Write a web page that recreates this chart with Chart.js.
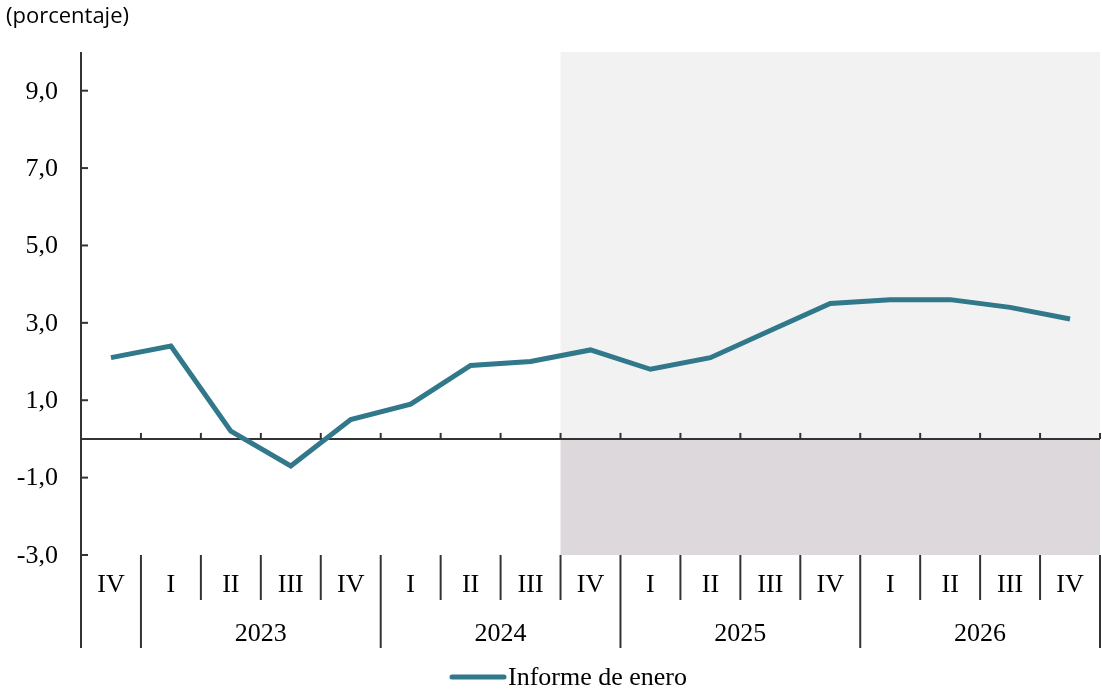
<!DOCTYPE html>
<html>
<head>
<meta charset="utf-8">
<script src="https://cdn.jsdelivr.net/npm/chart.js@4"></script>
<style>
  html, body { margin: 0; padding: 0; background: #fff; }
  #wrap { width: 1102px; height: 691px; position: relative; }
</style>
</head>
<body>
<div id="wrap"><canvas id="chart" width="1102" height="691"></canvas></div>
<script>
const quarters = ["IV", "I", "II", "III", "IV", "I", "II", "III", "IV", "I", "II", "III", "IV", "I", "II", "III", "IV"];
const years = ["2023", "2024", "2025", "2026"];
// index of the first quarter of each year
const yearStarts = [1, 5, 9, 13];
const informeEnero = [2.1, 2.4, 0.2, -0.7, 0.5, 0.9, 1.9, 2.0, 2.3, 1.8, 2.1, 2.8, 3.5, 3.6, 3.6, 3.4, 3.1];
const yTicks = [-3, -1, 1, 3, 5, 7, 9];
const forecastStart = 8; // IV 2024

const serif = "'Liberation Serif', 'Times New Roman', serif";
const axisColor = "#333333";
const lineColor = "#31788a";

const fmt = (v) => v.toFixed(1).replace(".", ",");

const decor = {
  id: "decor",
  beforeDatasetsDraw(chart) {
    const ctx = chart.ctx;
    const x = chart.scales.x;
    const y = chart.scales.y;
    const area = chart.chartArea;
    const n = quarters.length;
    const w = (area.right - area.left) / n;
    const edge = (i) => x.getPixelForValue(i) - w / 2;
    const y0 = y.getPixelForValue(0);

    ctx.save();
    // forecast shading
    const sx = edge(forecastStart);
    ctx.fillStyle = "#f2f2f2";
    ctx.fillRect(sx, area.top, area.right - sx, y0 - area.top);
    ctx.fillStyle = "#dcd8db";
    ctx.fillRect(sx, y0, area.right - sx, area.bottom - y0);

    ctx.strokeStyle = axisColor;
    ctx.lineWidth = 2;
    // y axis
    ctx.beginPath();
    ctx.moveTo(area.left, area.top);
    ctx.lineTo(area.left, area.bottom + 93);
    ctx.stroke();

    // y ticks and labels
    ctx.fillStyle = "#000";
    ctx.font = "26px " + serif;
    ctx.textAlign = "right";
    ctx.textBaseline = "middle";
    yTicks.forEach((v) => {
      const py = y.getPixelForValue(v);
      ctx.beginPath();
      ctx.moveTo(area.left, py);
      ctx.lineTo(area.left + 7, py);
      ctx.stroke();
      ctx.fillText(fmt(v), area.left - 23, py + 1);
    });

    // zero line with ticks
    ctx.beginPath();
    ctx.moveTo(area.left, y0);
    ctx.lineTo(area.right, y0);
    ctx.stroke();
    for (let i = 1; i <= n; i++) {
      const px = edge(i);
      ctx.beginPath();
      ctx.moveTo(px, y0);
      ctx.lineTo(px, y0 - 6);
      ctx.stroke();
    }

    // category separators
    const bigEdges = [0, ...yearStarts, n];
    for (let i = 1; i <= n; i++) {
      const px = i === n ? area.right : edge(i);
      const long = bigEdges.includes(i);
      ctx.beginPath();
      ctx.moveTo(px, area.bottom);
      ctx.lineTo(px, long ? area.bottom + 93 : area.bottom + 45);
      ctx.stroke();
    }

    // quarter labels
    ctx.textAlign = "center";
    quarters.forEach((q, i) => {
      ctx.fillText(q, x.getPixelForValue(i), area.bottom + 30);
    });
    // year labels
    years.forEach((yr, k) => {
      const a = edge(yearStarts[k]);
      const b = edge(yearStarts[k] + 4);
      ctx.fillText(yr, (a + b) / 2, area.bottom + 79);
    });

    // title
    ctx.textAlign = "left";
    ctx.font = "22px 'Open Sans', 'Noto Sans', sans-serif";
    ctx.fillText("(porcentaje)", 6, 17);

    // legend
    const ly = 677;
    ctx.strokeStyle = lineColor;
    ctx.lineWidth = 5;
    ctx.lineCap = "round";
    ctx.beginPath();
    ctx.moveTo(452, ly);
    ctx.lineTo(504, ly);
    ctx.stroke();
    ctx.font = "26px " + serif;
    ctx.fillText("Informe de enero", 508, ly + 1);
    ctx.restore();
  },
};

new Chart(document.getElementById("chart"), {
  type: "line",
  data: {
    labels: quarters.map((q, i) => q + i),
    datasets: [
      {
        label: "Informe de enero",
        data: informeEnero,
        borderColor: lineColor,
        borderWidth: 5,
        pointRadius: 0,
        tension: 0,
        fill: false,
      },
    ],
  },
  options: {
    responsive: false,
    animation: false,
    layout: { padding: { left: 81, right: 2, top: 52, bottom: 136 } },
    plugins: { legend: { display: false }, tooltip: { enabled: false } },
    scales: {
      x: { display: false, offset: true },
      y: { display: false, min: -3, max: 10 },
    },
  },
  plugins: [decor],
});
</script>
</body>
</html>
